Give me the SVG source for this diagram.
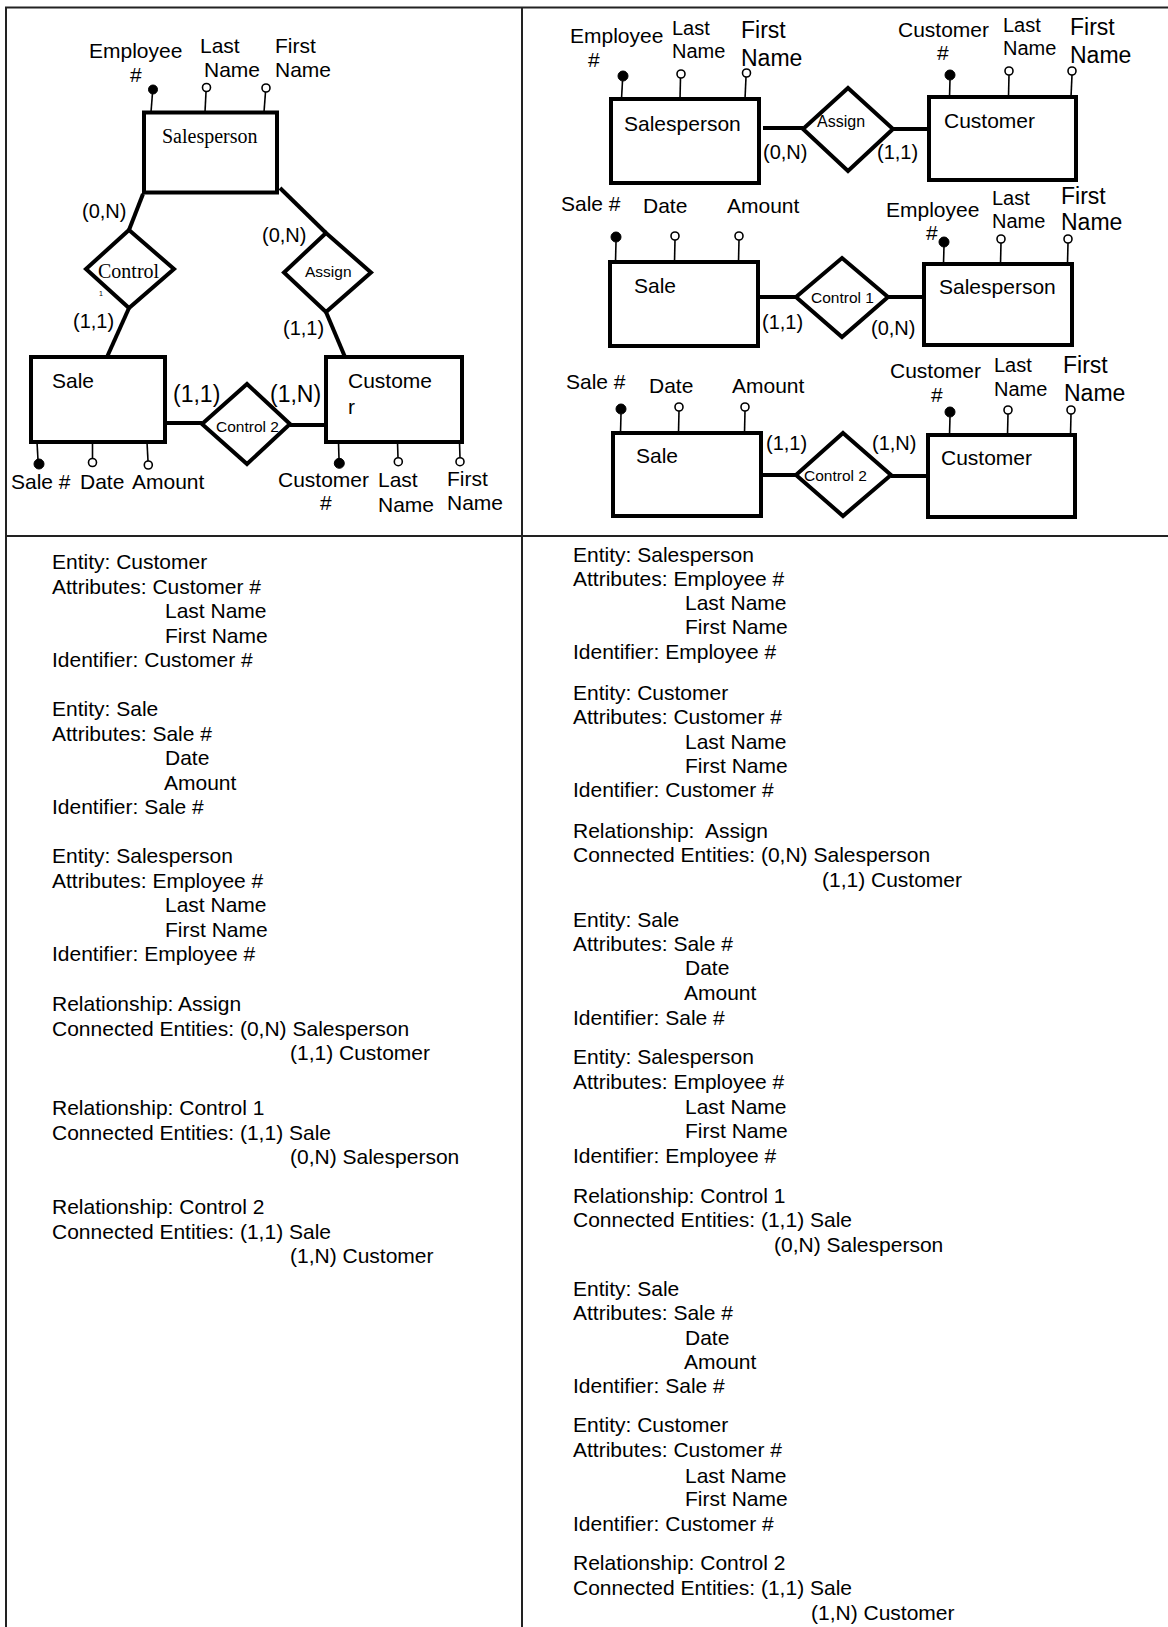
<svg xmlns="http://www.w3.org/2000/svg" width="1168" height="1627" viewBox="0 0 1168 1627">
<style>
text{font-family:"Liberation Sans",Arial,sans-serif;fill:#000}
.s20{font-size:20px}
.s21{font-size:21px}
.s23{font-size:23px}
.sm{font-size:15.5px}
.serif{font-family:"Liberation Serif","Times New Roman",serif;font-size:20px}
.box{fill:none;stroke:#000;stroke-width:4}
.dia{fill:#fff;stroke:#000;stroke-width:4;stroke-linejoin:miter}
.con{stroke:#000;stroke-width:4;fill:none}
.att{stroke:#000;stroke-width:1.6;fill:none}
.key{fill:#000;stroke:#000;stroke-width:1}
.opt{fill:#fff;stroke:#000;stroke-width:1.6}
.frame{stroke:#222;stroke-width:2;fill:none}
.txt{font-size:21px}
</style>

<g id="frame">
<line class="frame" x1="5" y1="7.5" x2="1168" y2="7.5"/>
<line class="frame" x1="6" y1="7" x2="6" y2="1627"/>
<line class="frame" x1="522" y1="7" x2="522" y2="1627"/>
<line class="frame" x1="5" y1="536" x2="1168" y2="536"/>
</g>

<g id="connectors">
<line class="con" x1="143" y1="194" x2="129" y2="230"/>
<line class="con" x1="280" y1="188" x2="326" y2="233"/>
<line class="con" x1="129" y1="308" x2="107" y2="357"/>
<line class="con" x1="326" y1="312" x2="345" y2="357"/>
<line class="con" x1="165" y1="423" x2="202" y2="423"/>
<line class="con" x1="290" y1="425" x2="326" y2="425"/>
<line class="con" x1="763" y1="128" x2="803" y2="128"/>
<line class="con" x1="893" y1="129" x2="929" y2="129"/>
<line class="con" x1="759" y1="297" x2="796" y2="297"/>
<line class="con" x1="888" y1="297" x2="924" y2="297"/>
<line class="con" x1="762" y1="475" x2="796" y2="475"/>
<line class="con" x1="891" y1="476" x2="928" y2="476"/>
</g>

<g id="L-salesperson">
<rect class="box" x="144" y="112.5" width="133" height="80"/>
<text class="serif" x="162" y="143">Salesperson</text>
<line class="att" x1="152.5" y1="93" x2="151" y2="112"/>
<circle class="key" cx="153" cy="89.5" r="4.5"/>
<line class="att" x1="206" y1="92" x2="205" y2="112"/>
<circle class="opt" cx="206.5" cy="87.5" r="4"/>
<line class="att" x1="265.5" y1="92" x2="264" y2="112"/>
<circle class="opt" cx="266" cy="88" r="4"/>
<text class="s21" x="89" y="58">Employee</text>
<text class="s21" x="130" y="82">#</text>
<text class="s21" x="200" y="53">Last</text>
<text class="s21" x="204" y="77">Name</text>
<text class="s21" x="275" y="53">First</text>
<text class="s21" x="275" y="77">Name</text>
<text class="s20" x="82" y="218">(0,N)</text>
<text class="s20" x="262" y="242">(0,N)</text>
</g>

<g id="L-control">
<polygon class="dia" points="129,230 174,269 129,308 86,269"/>
<text class="serif" x="98" y="278">Control</text>
<text x="99" y="296" style="font-size:7px">1</text>
<text class="s20" x="73" y="328">(1,1)</text>
</g>

<g id="L-assign">
<polygon class="dia" points="326,233 371,272.5 326,312 284,272.5"/>
<text class="sm" x="305" y="277">Assign</text>
<text class="s20" x="283" y="335">(1,1)</text>
</g>

<g id="L-sale">
<rect class="box" x="31" y="357" width="134" height="85"/>
<text class="s21" x="52" y="388">Sale</text>
<line class="att" x1="37" y1="442" x2="38" y2="460"/>
<circle class="key" cx="39" cy="464" r="5"/>
<line class="att" x1="92.5" y1="442" x2="92.5" y2="458.5"/>
<circle class="opt" cx="92.5" cy="462.5" r="4"/>
<line class="att" x1="147" y1="442" x2="148" y2="461"/>
<circle class="opt" cx="148.3" cy="465" r="4"/>
<text class="s21" x="11" y="489">Sale #</text>
<text class="s21" x="80" y="489">Date</text>
<text class="s21" x="132" y="489">Amount</text>
<text class="s23" x="173" y="402">(1,1)</text>
</g>

<g id="L-control2">
<polygon class="dia" points="247,384 290,424 247,464 202,424"/>
<text class="sm" x="216" y="432">Control 2</text>
<text class="s23" x="270" y="402">(1,N)</text>
</g>

<g id="L-customer">
<rect class="box" x="326" y="357" width="136" height="85"/>
<text class="s21" x="348" y="388">Custome</text>
<text class="s21" x="348" y="414">r</text>
<line class="att" x1="338.5" y1="442" x2="339" y2="459"/>
<circle class="key" cx="339.3" cy="463.3" r="5"/>
<line class="att" x1="397.5" y1="442" x2="398" y2="457.7"/>
<circle class="opt" cx="398.3" cy="461.7" r="4"/>
<line class="att" x1="459.5" y1="442" x2="460" y2="457.7"/>
<circle class="opt" cx="460" cy="461.7" r="4"/>
<text class="s21" x="278" y="487">Customer</text>
<text class="s21" x="320" y="510">#</text>
<text class="s21" x="378" y="487">Last</text>
<text class="s21" x="378" y="512">Name</text>
<text class="s21" x="447" y="486">First</text>
<text class="s21" x="447" y="510">Name</text>
</g>

<g id="R1-salesperson">
<rect class="box" x="611" y="99" width="148" height="84"/>
<text class="s21" x="624" y="131">Salesperson</text>
<line class="att" x1="622.5" y1="81" x2="621.5" y2="99"/>
<circle class="key" cx="623" cy="76" r="5"/>
<line class="att" x1="680.5" y1="78" x2="680" y2="99"/>
<circle class="opt" cx="681" cy="74" r="4"/>
<line class="att" x1="746" y1="77" x2="745" y2="99"/>
<circle class="opt" cx="746.5" cy="73" r="4"/>
<text class="s21" x="570" y="43">Employee</text>
<text class="s21" x="588" y="67">#</text>
<text class="s20" x="672" y="35">Last</text>
<text class="s20" x="672" y="58">Name</text>
<text class="s23" x="741" y="38">First</text>
<text class="s23" x="741" y="66">Name</text>
<text class="s20" x="763" y="159">(0,N)</text>
</g>

<g id="R1-assign">
<polygon class="dia" points="848,88 893,129 848,171 803,129"/>
<text x="817" y="127" style="font-size:16px">Assign</text>
<text class="s20" x="877" y="159">(1,1)</text>
</g>

<g id="R1-customer">
<rect class="box" x="929" y="97" width="147" height="83"/>
<text class="s21" x="944" y="128">Customer</text>
<line class="att" x1="950" y1="80" x2="949.5" y2="97"/>
<circle class="key" cx="950" cy="75" r="5"/>
<line class="att" x1="1009" y1="75" x2="1008.5" y2="97"/>
<circle class="opt" cx="1009" cy="71" r="4"/>
<line class="att" x1="1072" y1="75" x2="1071" y2="97"/>
<circle class="opt" cx="1072" cy="71" r="4"/>
<text class="s21" x="898" y="37">Customer</text>
<text class="s21" x="937" y="60">#</text>
<text class="s20" x="1003" y="32">Last</text>
<text class="s20" x="1003" y="55">Name</text>
<text class="s23" x="1070" y="35">First</text>
<text class="s23" x="1070" y="63">Name</text>
</g>

<g id="R2-sale">
<rect class="box" x="610" y="262" width="148" height="84"/>
<text class="s21" x="634" y="293">Sale</text>
<line class="att" x1="616" y1="242" x2="615.5" y2="262"/>
<circle class="key" cx="616" cy="237" r="5"/>
<line class="att" x1="675" y1="240" x2="674.5" y2="262"/>
<circle class="opt" cx="675" cy="236" r="4"/>
<line class="att" x1="739" y1="240" x2="738.5" y2="262"/>
<circle class="opt" cx="739" cy="236" r="4"/>
<text class="s21" x="561" y="211">Sale #</text>
<text class="s21" x="643" y="213">Date</text>
<text class="s21" x="727" y="213">Amount</text>
<text class="s20" x="762" y="329">(1,1)</text>
</g>

<g id="R2-control1">
<polygon class="dia" points="842,258 888,297 842,337 796,297"/>
<text class="sm" x="811" y="303">Control 1</text>
<text class="s20" x="871" y="335">(0,N)</text>
</g>

<g id="R2-salesperson">
<rect class="box" x="924" y="264" width="148" height="81"/>
<text class="s21" x="939" y="294">Salesperson</text>
<line class="att" x1="944" y1="246" x2="943.5" y2="264"/>
<circle class="key" cx="944" cy="242" r="5"/>
<line class="att" x1="1001" y1="243" x2="1000.5" y2="264"/>
<circle class="opt" cx="1001" cy="239" r="4"/>
<line class="att" x1="1068" y1="243" x2="1067.5" y2="264"/>
<circle class="opt" cx="1068" cy="239" r="4"/>
<text class="s21" x="886" y="217">Employee</text>
<text class="s21" x="926" y="240">#</text>
<text class="s20" x="992" y="205">Last</text>
<text class="s20" x="992" y="228">Name</text>
<text class="s23" x="1061" y="204">First</text>
<text class="s23" x="1061" y="230">Name</text>
</g>

<g id="R3-sale">
<rect class="box" x="613" y="433" width="148" height="83"/>
<text class="s21" x="636" y="463">Sale</text>
<line class="att" x1="621" y1="414" x2="620.5" y2="433"/>
<circle class="key" cx="621" cy="409" r="5"/>
<line class="att" x1="679" y1="411" x2="678.5" y2="433"/>
<circle class="opt" cx="679" cy="407" r="4"/>
<line class="att" x1="745" y1="411" x2="744.5" y2="433"/>
<circle class="opt" cx="745" cy="407" r="4"/>
<text class="s21" x="566" y="389">Sale #</text>
<text class="s21" x="649" y="393">Date</text>
<text class="s21" x="732" y="393">Amount</text>
<text class="s20" x="766" y="450">(1,1)</text>
</g>

<g id="R3-control2">
<polygon class="dia" points="843,433 891,475 843,516 796,475"/>
<text class="sm" x="804" y="481">Control 2</text>
<text class="s20" x="872" y="450">(1,N)</text>
</g>

<g id="R3-customer">
<rect class="box" x="928" y="435" width="147" height="82"/>
<text class="s21" x="941" y="465">Customer</text>
<line class="att" x1="950" y1="417" x2="949.5" y2="435"/>
<circle class="key" cx="950" cy="412" r="5"/>
<line class="att" x1="1008" y1="414" x2="1007.5" y2="435"/>
<circle class="opt" cx="1008" cy="410" r="4"/>
<line class="att" x1="1071" y1="414" x2="1070.5" y2="435"/>
<circle class="opt" cx="1071" cy="410" r="4"/>
<text class="s21" x="890" y="378">Customer</text>
<text class="s21" x="931" y="402">#</text>
<text class="s20" x="994" y="372">Last</text>
<text class="s20" x="994" y="396">Name</text>
<text class="s23" x="1063" y="373">First</text>
<text class="s23" x="1064" y="401">Name</text>
</g>

<g id="L-text">
<text class="txt" x="52" y="569">Entity: Customer</text>
<text class="txt" x="52" y="593.5">Attributes: Customer #</text>
<text class="txt" x="165" y="618">Last Name</text>
<text class="txt" x="165" y="642.5">First Name</text>
<text class="txt" x="52" y="667">Identifier: Customer #</text>
<text class="txt" x="52" y="716">Entity: Sale</text>
<text class="txt" x="52" y="740.5">Attributes: Sale #</text>
<text class="txt" x="165" y="765">Date</text>
<text class="txt" x="164" y="789.5">Amount</text>
<text class="txt" x="52" y="814">Identifier: Sale #</text>
<text class="txt" x="52" y="863">Entity: Salesperson</text>
<text class="txt" x="52" y="887.5">Attributes: Employee #</text>
<text class="txt" x="165" y="912">Last Name</text>
<text class="txt" x="165" y="936.5">First Name</text>
<text class="txt" x="52" y="961">Identifier: Employee #</text>
<text class="txt" x="52" y="1011">Relationship: Assign</text>
<text class="txt" x="52" y="1035.5">Connected Entities: (0,N) Salesperson</text>
<text class="txt" x="290" y="1060">(1,1) Customer</text>
<text class="txt" x="52" y="1115">Relationship: Control 1</text>
<text class="txt" x="52" y="1140">Connected Entities: (1,1) Sale</text>
<text class="txt" x="290" y="1164">(0,N) Salesperson</text>
<text class="txt" x="52" y="1214">Relationship: Control 2</text>
<text class="txt" x="52" y="1238.5">Connected Entities: (1,1) Sale</text>
<text class="txt" x="290" y="1263">(1,N) Customer</text>
</g>

<g id="R-text">
<text class="txt" x="573" y="562">Entity: Salesperson</text>
<text class="txt" x="573" y="586">Attributes: Employee #</text>
<text class="txt" x="685" y="610">Last Name</text>
<text class="txt" x="685" y="634">First Name</text>
<text class="txt" x="573" y="659">Identifier: Employee #</text>
<text class="txt" x="573" y="700">Entity: Customer</text>
<text class="txt" x="573" y="724">Attributes: Customer #</text>
<text class="txt" x="685" y="749">Last Name</text>
<text class="txt" x="685" y="773">First Name</text>
<text class="txt" x="573" y="797">Identifier: Customer #</text>
<text class="txt" x="573" y="838">Relationship:&#160; Assign</text>
<text class="txt" x="573" y="862">Connected Entities: (0,N) Salesperson</text>
<text class="txt" x="822" y="887">(1,1) Customer</text>
<text class="txt" x="573" y="927">Entity: Sale</text>
<text class="txt" x="573" y="951">Attributes: Sale #</text>
<text class="txt" x="685" y="975">Date</text>
<text class="txt" x="684" y="1000">Amount</text>
<text class="txt" x="573" y="1025">Identifier: Sale #</text>
<text class="txt" x="573" y="1064">Entity: Salesperson</text>
<text class="txt" x="573" y="1089">Attributes: Employee #</text>
<text class="txt" x="685" y="1114">Last Name</text>
<text class="txt" x="685" y="1138">First Name</text>
<text class="txt" x="573" y="1163">Identifier: Employee #</text>
<text class="txt" x="573" y="1203">Relationship: Control 1</text>
<text class="txt" x="573" y="1227">Connected Entities: (1,1) Sale</text>
<text class="txt" x="774" y="1252">(0,N) Salesperson</text>
<text class="txt" x="573" y="1296">Entity: Sale</text>
<text class="txt" x="573" y="1320">Attributes: Sale #</text>
<text class="txt" x="685" y="1345">Date</text>
<text class="txt" x="684" y="1369">Amount</text>
<text class="txt" x="573" y="1393">Identifier: Sale #</text>
<text class="txt" x="573" y="1432">Entity: Customer</text>
<text class="txt" x="573" y="1457">Attributes: Customer #</text>
<text class="txt" x="685" y="1483">Last Name</text>
<text class="txt" x="685" y="1506">First Name</text>
<text class="txt" x="573" y="1531">Identifier: Customer #</text>
<text class="txt" x="573" y="1570">Relationship: Control 2</text>
<text class="txt" x="573" y="1595">Connected Entities: (1,1) Sale</text>
<text class="txt" x="811" y="1620">(1,N) Customer</text>
</g>
</svg>
